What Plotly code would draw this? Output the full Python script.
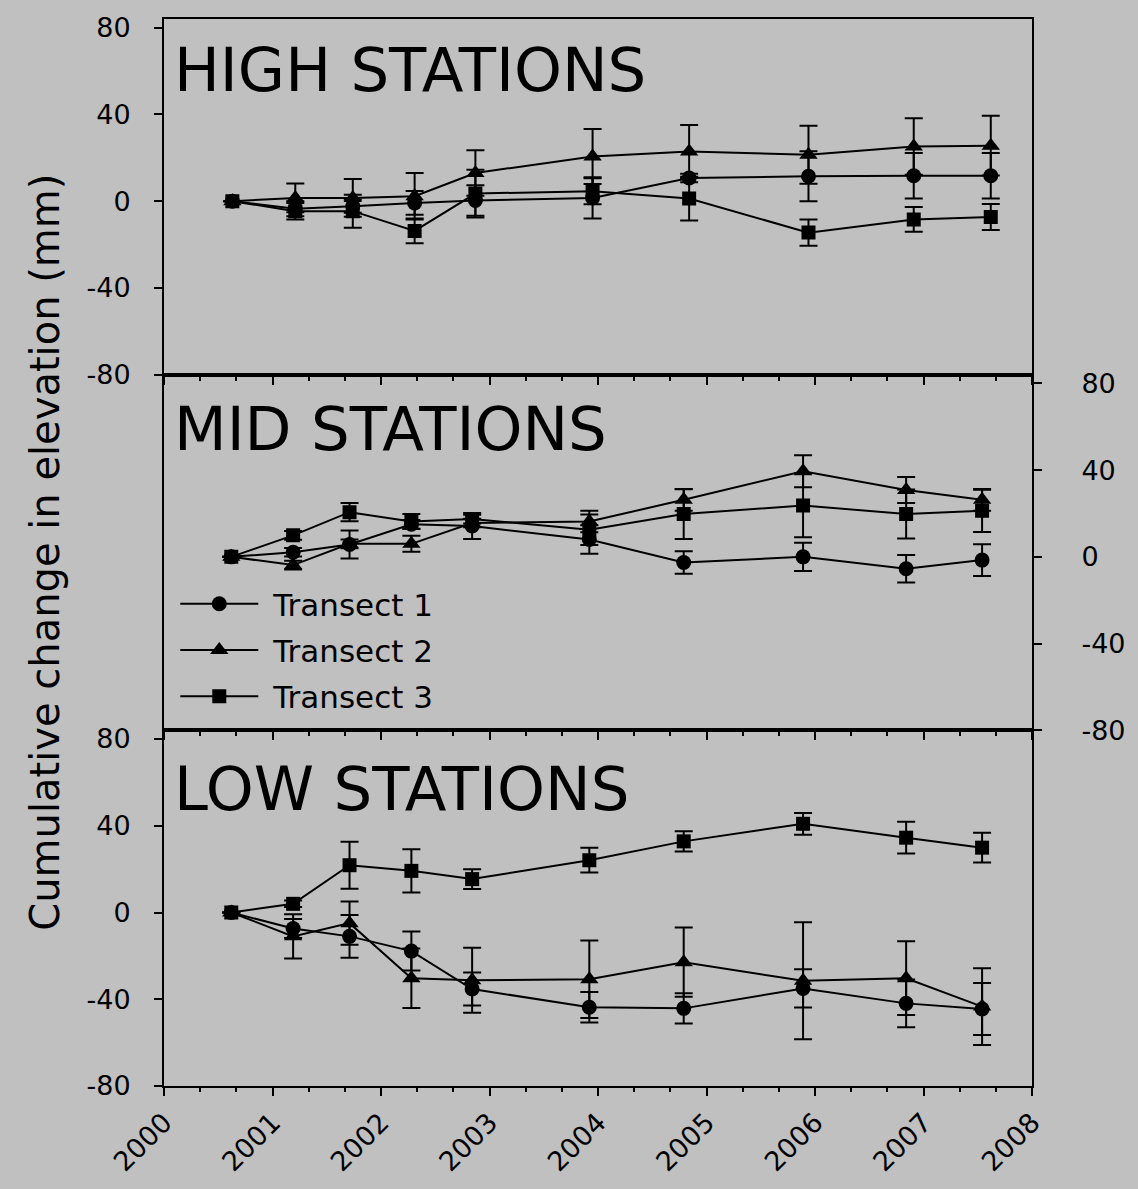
import plotly.graph_objects as go

# Survey dates (decimal years); the HIGH transects were read on slightly later dates
HIGH_DATES = [2000.63, 2001.21, 2001.74, 2002.31, 2002.87, 2003.95, 2004.84, 2005.94, 2006.91, 2007.62]
MIDLOW_DATES = [2000.62, 2001.19, 2001.71, 2002.28, 2002.84, 2003.92, 2004.79, 2005.89, 2006.84, 2007.54]

# Cumulative elevation change (mm) and error bar half-widths, per station band and transect
HIGH_T1 = [0, -3.5, -2.3, -0.8, 0.3, 1.5, 10.7, 11.5, 11.7, 11.7]
HIGH_T1_ERR = [0, 3.5, 3, 5.5, 7, 9.5, 2, 11.5, 10.5, 10.5]
HIGH_T2 = [0, 1.5, 1.5, 2.3, 13, 20.6, 22.9, 21.4, 25.2, 25.6]
HIGH_T2_ERR = [0, 6.6, 8.7, 10.7, 10.5, 12.7, 12.2, 13.4, 13, 13.8]
HIGH_T3 = [0, -4.6, -4.6, -13.7, 3.5, 4.6, 1.2, -14.5, -8.4, -7.3]
HIGH_T3_ERR = [0, 3.8, 7.6, 5.7, 11, 6, 10.1, 6.1, 5.7, 6]

MID_T1 = [0, 2.1, 5.7, 15, 14.2, 8, -2.6, 0, -5.5, -1.5]
MID_T1_ERR = [0, 2, 6.5, 2, 6, 6.6, 5.2, 6.5, 6.3, 7.3]
MID_T2 = [0, -3.8, 6, 6, 15.6, 16.3, 26.3, 39.5, 30.8, 26.3]
MID_T2_ERR = [0, 2, 2, 3.7, 2, 5, 5, 7.4, 6, 5]
MID_T3 = [0, 9.9, 20.6, 16.3, 17.4, 12.5, 19.7, 23.7, 19.7, 21.2]
MID_T3_ERR = [0, 2, 4.2, 3.5, 2, 7, 11.5, 14.7, 11.3, 9.7]

LOW_T1 = [0, -7.4, -11, -17.8, -35.3, -43.7, -44.2, -35, -41.9, -44.5]
LOW_T1_ERR = [0, 4.4, 9.9, 9, 7.6, 7, 7, 8.8, 11, 12]
LOW_T2 = [0, -11, -4.9, -30.3, -31.2, -30.8, -22.9, -31.5, -30.3, -43.4]
LOW_T2_ERR = [0, 10.2, 10, 13.7, 15, 17.9, 16, 27, 17, 17.7]
LOW_T3 = [0, 4, 21.8, 19.2, 15.4, 24.1, 32.8, 40.9, 34.5, 29.9]
LOW_T3_ERR = [0, 1.5, 10.8, 10, 4.6, 5.7, 4.7, 5, 7.3, 6.9]

TRANSECT_NAMES = ["Transect 1", "Transect 2", "Transect 3"]
PANEL_TITLES = ["HIGH STATIONS", "MID STATIONS", "LOW STATIONS"]
Y_TICKS = [-80, -40, 0, 40, 80]
Y_TICK_LABELS = ["-80", "-40", "0", "40", "80"]
X_TICK_LABELS = ["2000", "2001", "2002", "2003", "2004", "2005", "2006", "2007", "2008"]

BG = "#C0C0C0"
FONT = "DejaVu Sans"
SYMBOLS = ["circle", "triangle-up", "square"]
SIZES = [15, 16, 14]

panels = [
    # (x axis, y axis, dates, series, errors, show legend)
    ("x3", "y3", HIGH_DATES, [HIGH_T1, HIGH_T2, HIGH_T3], [HIGH_T1_ERR, HIGH_T2_ERR, HIGH_T3_ERR], False),
    ("x2", "y2", MIDLOW_DATES, [MID_T1, MID_T2, MID_T3], [MID_T1_ERR, MID_T2_ERR, MID_T3_ERR], True),
    ("x", "y", MIDLOW_DATES, [LOW_T1, LOW_T2, LOW_T3], [LOW_T1_ERR, LOW_T2_ERR, LOW_T3_ERR], False),
]

fig = go.Figure()
for xa, ya, dates, series, errs, show in panels:
    for i, (vals, err) in enumerate(zip(series, errs)):
        fig.add_trace(go.Scatter(
            x=dates, y=vals, xaxis=xa, yaxis=ya,
            mode="lines+markers",
            name="\u00a0" + TRANSECT_NAMES[i],
            legendgroup=TRANSECT_NAMES[i],
            showlegend=show,
            line=dict(color="black", width=2),
            marker=dict(symbol=SYMBOLS[i], size=SIZES[i], color="black"),
            error_y=dict(type="data", array=err, visible=True,
                         color="black", thickness=2, width=9),
        ))

X_RANGE = [2000, 2008]
Y_RANGE = [-80, 84]


def x_axis(anchor, labels):
    return dict(
        anchor=anchor, range=X_RANGE, domain=[0, 1],
        tickmode="array",
        tickvals=[int(t) for t in X_TICK_LABELS],
        ticktext=X_TICK_LABELS,
        showticklabels=labels, tickangle=-45,
        tickfont=dict(size=27, color="black", family=FONT),
        ticks="outside", ticklen=8, tickwidth=2, tickcolor="black",
        minor=dict(dtick=1 / 3, tick0=2000, ticks="outside", ticklen=4,
                   tickwidth=1.5, tickcolor="black", showgrid=False),
        showline=True, linecolor="black", linewidth=2, mirror=True,
        showgrid=False, zeroline=False,
    )


def y_axis(domain, side, anchor):
    return dict(
        domain=domain, anchor=anchor, side=side, range=Y_RANGE,
        tickmode="array", tickvals=Y_TICKS, ticktext=Y_TICK_LABELS,
        tickfont=dict(size=27, color="black", family=FONT),
        ticks="outside", ticklen=8, tickwidth=2, tickcolor="black",
        ticklabelstandoff=18 if side == "left" else 34,
        showline=True, linecolor="black", linewidth=2, mirror=True,
        showgrid=False, zeroline=False,
    )


annotations = []
for title, ypos in zip(PANEL_TITLES, [0.953, 0.616, 0.279]):
    annotations.append(dict(
        text=title, xref="paper", yref="paper", x=0.009, y=ypos,
        xanchor="left", yanchor="middle", showarrow=False,
        font=dict(size=61, color="black", family=FONT),
    ))
annotations.append(dict(
    text="Cumulative change in elevation (mm)",
    xref="paper", yref="paper", x=-0.138, y=0.5,
    xanchor="center", yanchor="middle", textangle=-90, showarrow=False,
    font=dict(size=40, color="black", family=FONT),
))

fig.update_layout(
    width=1138, height=1189,
    margin=dict(l=164, r=80, t=15, b=102, pad=0),
    paper_bgcolor=BG, plot_bgcolor=BG,
    font=dict(family=FONT, color="black"),
    xaxis=x_axis("y", True),
    xaxis2=x_axis("y2", False),
    xaxis3=x_axis("y3", False),
    yaxis=y_axis([0, 1 / 3], "left", "x"),
    yaxis2=y_axis([1 / 3, 2 / 3], "right", "x2"),
    yaxis3=y_axis([2 / 3, 1], "left", "x3"),
    annotations=annotations,
    legend=dict(
        x=0.013, y=0.477, xanchor="left", yanchor="top",
        bgcolor="rgba(0,0,0,0)", borderwidth=0,
        font=dict(size=31, color="black", family=FONT),
        tracegroupgap=3, traceorder="grouped", itemwidth=78,
    ),
)

fig.write_html("out.html")
